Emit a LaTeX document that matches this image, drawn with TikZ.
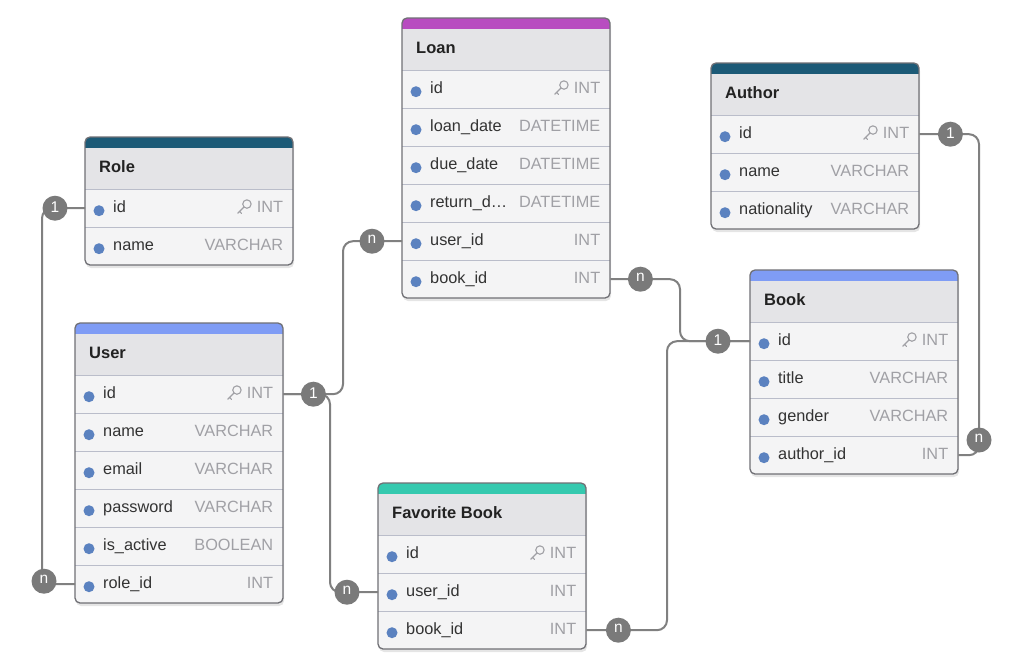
\documentclass[tikz,border=0pt]{standalone}
\usepackage{fontspec}
\setmainfont{Liberation Sans}
\usetikzlibrary{calc}
\definecolor{bordc}{HTML}{707075}
\definecolor{headfill}{HTML}{E4E4E7}
\definecolor{rowfill}{HTML}{F4F4F5}
\definecolor{sepc}{HTML}{BABDCA}
\definecolor{titlec}{HTML}{222222}
\definecolor{fieldc}{HTML}{333333}
\definecolor{typec}{HTML}{A0A0A5}
\definecolor{dotc}{HTML}{5B82C0}
\definecolor{conc}{HTML}{808080}
\definecolor{circc}{HTML}{7A7A7A}
\definecolor{bandpurple}{HTML}{B84CC0}
\definecolor{bandteal}{HTML}{1C5A77}
\definecolor{bandblue}{HTML}{7F9CF5}
\definecolor{bandgreen}{HTML}{35C9AF}
\tikzset{
  rowbox/.style={anchor=north west, minimum width=208pt, minimum height=38pt, inner sep=0pt, draw=none},
  ertitle/.style={anchor=mid west, inner sep=0pt, font=\fontsize{16.5}{19}\selectfont\bfseries, text=titlec},
  erfield/.style={anchor=mid west, inner sep=0pt, font=\fontsize{16.3}{19}\selectfont, text=fieldc},
  ertype/.style={anchor=mid east, inner sep=0pt, font=\fontsize{16.3}{19}\selectfont, text=typec},
  erdot/.style={circle, fill=dotc, minimum size=11pt, inner sep=0pt, draw=none},
  conn/.style={draw=conc, line width=2pt, rounded corners=10pt},
  card/.style={circle, fill=circc, minimum size=25pt, inner sep=0pt, text=white, font=\fontsize{15.5}{15}\selectfont},
  erkey/.pic={
    \draw[typec, line width=1.1pt] (3.2,-3.2) circle[radius=4.2pt];
    \draw[typec, line width=1.1pt, line cap=round] (0.3,-0.3) -- (-6,6) (-4.2,4.2) -- (-2.2,6.2);
  }
}
\newcommand{\ertable}[7]{%
  \pgfmathsetmacro\erh{52+38*#4}
  \fill[black, opacity=0.10, rounded corners=5pt] (#2+1,#3+3) rectangle ++(208,\erh);
  \begin{scope}
    \clip[rounded corners=5pt] (#2,#3) rectangle ++(208,\erh);
    \fill[rowfill] (#2,#3) rectangle ++(208,\erh);
    \fill[headfill] (#2,#3) rectangle ++(208,52);
    \fill[#5] (#2,#3) rectangle ++(208,11);
  \end{scope}
  \node[ertitle] (#1-title) at (#2+14,#3+33) {#6};
  \foreach \f/\t/\k [count=\i from 0] in {#7} {
    \node[rowbox] (#1-r\i) at (#2,#3+52+38*\i) {};
    \draw[sepc, line width=1pt] (#1-r\i.north west) -- (#1-r\i.north east);
    \node[erdot] (#1-d\i) at ($(#1-r\i.west)+(14,2.5)$) {};
    \node[erfield] (#1-f\i) at ($(#1-r\i.west)+(28,2)$) {\f};
    \node[ertype] (#1-t\i) at ($(#1-r\i.east)+(-10,2)$) {\t};
    \ifnum\k=1 \pic at ($(#1-t\i.west)+(-13,0)$) {erkey}; \fi
  }
  \draw[bordc, line width=1.3pt, rounded corners=5pt] (#2,#3) rectangle ++(208,\erh);
}
\begin{document}
\begin{tikzpicture}[x=1pt,y=-1pt]
\fill[white] (0,0) rectangle (1011,667);
\useasboundingbox (0,0) rectangle (1011,667);

\ertable{loan}{402}{18}{6}{bandpurple}{Loan}{id/INT/1, loan\_date/DATETIME/0, due\_date/DATETIME/0, return\_d…/DATETIME/0, user\_id/INT/0, book\_id/INT/0}
\ertable{author}{711}{63}{3}{bandteal}{Author}{id/INT/1, name/VARCHAR/0, nationality/VARCHAR/0}
\ertable{role}{85}{137}{2}{bandteal}{Role}{id/INT/1, name/VARCHAR/0}
\ertable{user}{75}{323}{6}{bandblue}{User}{id/INT/1, name/VARCHAR/0, email/VARCHAR/0, password/VARCHAR/0, is\_active/BOOLEAN/0, role\_id/INT/0}
\ertable{book}{750}{270}{4}{bandblue}{Book}{id/INT/1, title/VARCHAR/0, gender/VARCHAR/0, author\_id/INT/0}
\ertable{fav}{378}{483}{3}{bandgreen}{Favorite Book}{id/INT/1, user\_id/INT/0, book\_id/INT/0}

% connectors
\coordinate (vRU) at (42,400);
\draw[conn] (role-r0.west) -| (vRU) |- (user-r5.west);
\coordinate (vUL) at (343,300);
\draw[conn] (user-r0.east) -| (vUL) |- (loan-r4.west);
\coordinate (vUF) at (330,500);
\draw[conn] (user-r0.east) -| (vUF) |- (fav-r1.west);
\coordinate (vLB) at (680,300);
\draw[conn] (loan-r5.east) -| (vLB) |- (book-r0.west);
\coordinate (vFB) at (667,500);
\draw[conn] (fav-r2.east) -| (vFB) |- (book-r0.west);
\coordinate (vAB) at (979,440);
\draw[conn] (author-r0.east) -| (vAB) |- (book-r3.east);

% cardinality markers
\node[card] (cRole) at ($(role-r0.west)+(-30,0)$) {\raisebox{3pt}{1}};
\node[card] (cUserRole) at ($(user-r5.west)+(-31,-3)$) {\raisebox{3pt}{n}};
\node[card] (cUserId) at ($(user-r0.east)+(30,0)$) {\raisebox{3pt}{1}};
\node[card] (cLoanUser) at ($(loan-r4.west)+(-30,0)$) {\raisebox{3pt}{n}};
\node[card] (cFavUser) at ($(fav-r1.west)+(-31,0)$) {\raisebox{3pt}{n}};
\node[card] (cLoanBook) at ($(loan-r5.east)+(30,0)$) {\raisebox{3pt}{n}};
\node[card] (cBookId) at ($(book-r0.west)+(-32,0)$) {\raisebox{3pt}{1}};
\node[card] (cFavBook) at ($(fav-r2.east)+(32,0)$) {\raisebox{3pt}{n}};
\node[card] (cAuthor) at ($(author-r0.east)+(31,0)$) {\raisebox{3pt}{1}};
\node[card] (cBookAuthor) at (vAB) {\raisebox{3pt}{n}};
\end{tikzpicture}
\end{document}
